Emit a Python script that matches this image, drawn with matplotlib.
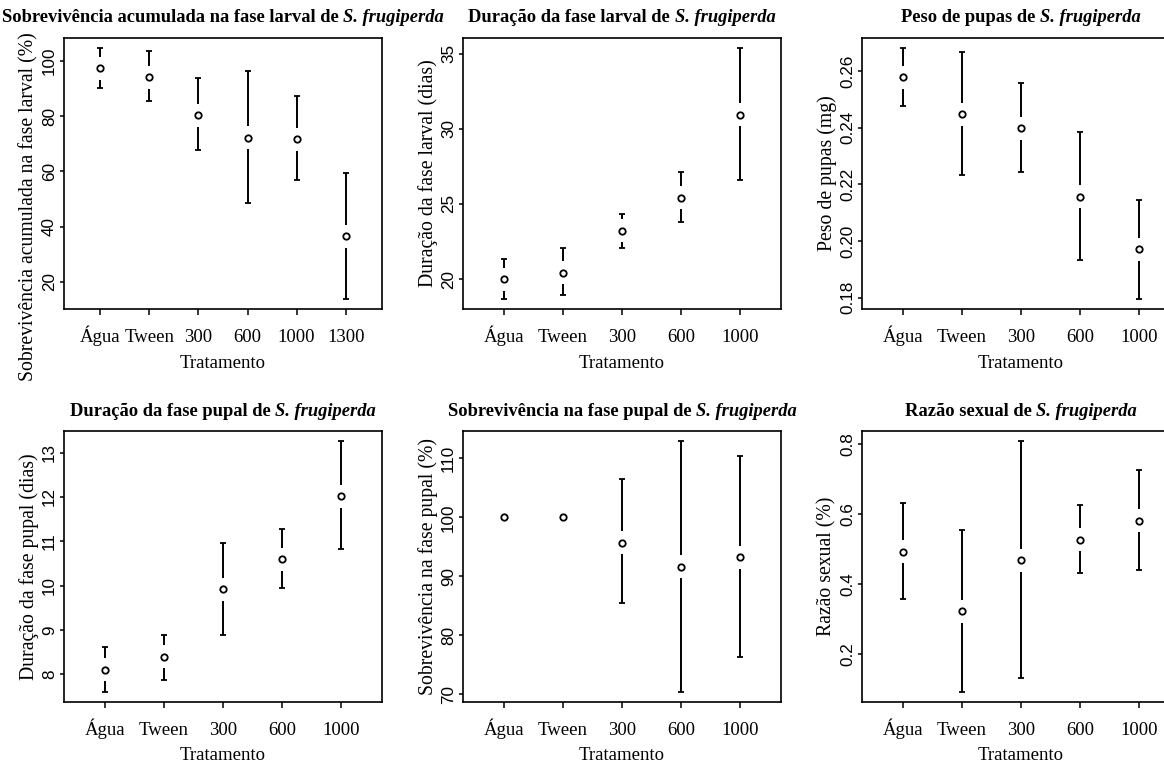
import matplotlib
matplotlib.use("Agg")
import matplotlib.pyplot as plt
from matplotlib.ticker import FormatStrFormatter, FixedLocator

# ---------------- data ----------------
cats6 = ["Água", "Tween", "300", "600", "1000", "1300"]
cats5 = ["Água", "Tween", "300", "600", "1000"]

sobrev_larval_mean = [97.4, 94.2, 80.4, 72.2, 71.7, 36.6]
sobrev_larval_lower = [90.4, 85.6, 67.6, 48.5, 57.0, 13.8]
sobrev_larval_upper = [104.7, 103.8, 93.8, 96.4, 87.2, 59.6]

dur_larval_mean = [19.98, 20.44, 23.22, 25.40, 30.92]
dur_larval_lower = [18.68, 18.92, 22.07, 23.82, 26.62]
dur_larval_upper = [21.32, 22.07, 24.33, 27.10, 35.37]

peso_mean = [0.2577, 0.2448, 0.2398, 0.2156, 0.1971]
peso_lower = [0.2475, 0.2234, 0.2242, 0.1931, 0.1795]
peso_upper = [0.2681, 0.2667, 0.2557, 0.2385, 0.2144]

dur_pupal_mean = [8.105, 8.39, 9.92, 10.59, 12.02]
dur_pupal_lower = [7.60, 7.88, 8.887, 9.95, 10.82]
dur_pupal_upper = [8.617, 8.887, 10.965, 11.28, 13.26]

sobrev_pupal_mean = [100.0, 100.0, 95.7, 91.64, 93.22]
sobrev_pupal_lower = [100.0, 100.0, 85.42, 70.4, 76.27]
sobrev_pupal_upper = [100.0, 100.0, 106.44, 112.94, 110.45]

razao_mean = [0.4905, 0.321, 0.4667, 0.5257, 0.580]
razao_lower = [0.3552, 0.0905, 0.1295, 0.4295, 0.438]
razao_upper = [0.6314, 0.5533, 0.8076, 0.6257, 0.7248]

titles_plain = ["Sobrevivência acumulada na fase larval de ",
                "Duração da fase larval de ",
                "Peso de pupas de ",
                "Duração da fase pupal de ",
                "Sobrevivência na fase pupal de ",
                "Razão sexual de "]
title_italic = "S. frugiperda"
ylabels = ["Sobrevivência acumulada na fase larval (%)",
           "Duração da fase larval (dias)",
           "Peso de pupas (mg)",
           "Duração da fase pupal (dias)",
           "Sobrevivência na fase pupal (%)",
           "Razão sexual (%)"]
xlabel = "Tratamento"

yticks = [[20, 40, 60, 80, 100],
          [20, 25, 30, 35],
          [0.18, 0.20, 0.22, 0.24, 0.26],
          [8, 9, 10, 11, 12, 13],
          [70, 80, 90, 100, 110],
          [0.2, 0.4, 0.6, 0.8]]
yfmt = ["%d", "%d", "%.2f", "%d", "%d", "%.1f"]

panels = [
    (cats6, sobrev_larval_mean, sobrev_larval_lower, sobrev_larval_upper),
    (cats5, dur_larval_mean, dur_larval_lower, dur_larval_upper),
    (cats5, peso_mean, peso_lower, peso_upper),
    (cats5, dur_pupal_mean, dur_pupal_lower, dur_pupal_upper),
    (cats5, sobrev_pupal_mean, sobrev_pupal_lower, sobrev_pupal_upper),
    (cats5, razao_mean, razao_lower, razao_upper),
]

# ---------------- layout ----------------
W, H, DPI = 1164, 764, 100
fig = plt.figure(figsize=(W / DPI, H / DPI), dpi=DPI)
fig.patch.set_facecolor("white")

col_left = [64, 463, 862]
row_top = [38, 431]
ax_w, ax_h = 318, 271
ylabel_ypos = [0.376, 0.5, 0.5, 0.5, 0.5, 0.5]

SERIF = "Liberation Serif"
SANS = "Liberation Sans"
GAP = 11.5  # px gap around point

renderer = fig.canvas.get_renderer()

for k, (cats, mean, lo, hi) in enumerate(panels):
    r, c = divmod(k, 3)
    L = col_left[c]
    T = row_top[r]
    ax = fig.add_axes([L / W, 1 - (T + ax_h) / H, ax_w / W, ax_h / H])
    n = len(cats)
    xs = list(range(1, n + 1))
    ax.set_xlim(0.5 - 0.04 * n, n + 0.5 + 0.04 * n)
    ymin, ymax = min(lo), max(hi)
    pad = 0.04 * (ymax - ymin)
    ax.set_ylim(ymin - pad, ymax + pad)

    for s in ax.spines.values():
        s.set_linewidth(1.2)

    ax.set_xticks(xs)
    ax.set_xticklabels(cats, fontfamily=SERIF, fontsize=13.5)
    for lab in ax.get_xticklabels():
        lab.set_verticalalignment("baseline")
    ax.yaxis.set_major_locator(FixedLocator(yticks[k]))
    ax.yaxis.set_major_formatter(FormatStrFormatter(yfmt[k]))
    ax.tick_params(axis="x", length=4.5, width=1.1, pad=19)
    ax.tick_params(axis="y", length=3, width=1.1, pad=2, labelrotation=90)
    for lab in ax.get_yticklabels():
        lab.set_fontfamily(SANS)
        lab.set_fontsize(12.3)
        lab.set_verticalalignment("center")

    ax.set_xlabel(xlabel, fontfamily=SERIF, fontsize=13.5)
    ax.xaxis.set_label_coords(0.5, -54 / ax_h)
    ax.xaxis.label.set_verticalalignment("center")
    ax.set_ylabel(ylabels[k], fontfamily=SERIF, fontsize=14.2)
    ax.yaxis.set_label_coords(-35 / ax_w, ylabel_ypos[k])
    ax.yaxis.label.set_verticalalignment("center")

    # points
    ax.plot(xs, mean, linestyle="none", marker="o", mfc="none", mec="black",
            ms=4.6, mew=1.3, zorder=3)
    # CI with gap
    tr = ax.transData
    tri = tr.inverted()
    for xi, m, l, h in zip(xs, mean, lo, hi):
        dx, my = tr.transform((xi, m))
        for end, sign in ((h, 1), (l, -1)):
            _, ey = tr.transform((xi, end))
            start = my + sign * GAP
            if sign * (ey - start) > 0:
                ys = tri.transform((dx, start))[1]
                ax.plot([xi, xi], [ys, end], color="black", lw=1.4,
                        solid_capstyle="butt")
                ax.plot([xi], [end], marker="_", ms=4.5, mew=1.3,
                        color="black")

    # title: plain bold + bold italic part, centered over axes
    t1 = fig.text(0, 0, titles_plain[k], fontfamily=SERIF, fontsize=13.3,
                  fontweight="bold", ha="left", va="center")
    t2 = fig.text(0, 0, title_italic, fontfamily=SERIF, fontsize=13.3,
                  fontweight="bold", fontstyle="italic", ha="left", va="center")
    w1 = t1.get_window_extent(renderer).width
    w2 = t2.get_window_extent(renderer).width
    cx = L + ax_w / 2
    cy = H - (T - 20)
    x0 = cx - (w1 + w2) / 2
    t1.set_position((x0 / W, cy / H))
    t2.set_position(((x0 + w1) / W, cy / H))

fig.savefig("out.png", dpi=DPI)
